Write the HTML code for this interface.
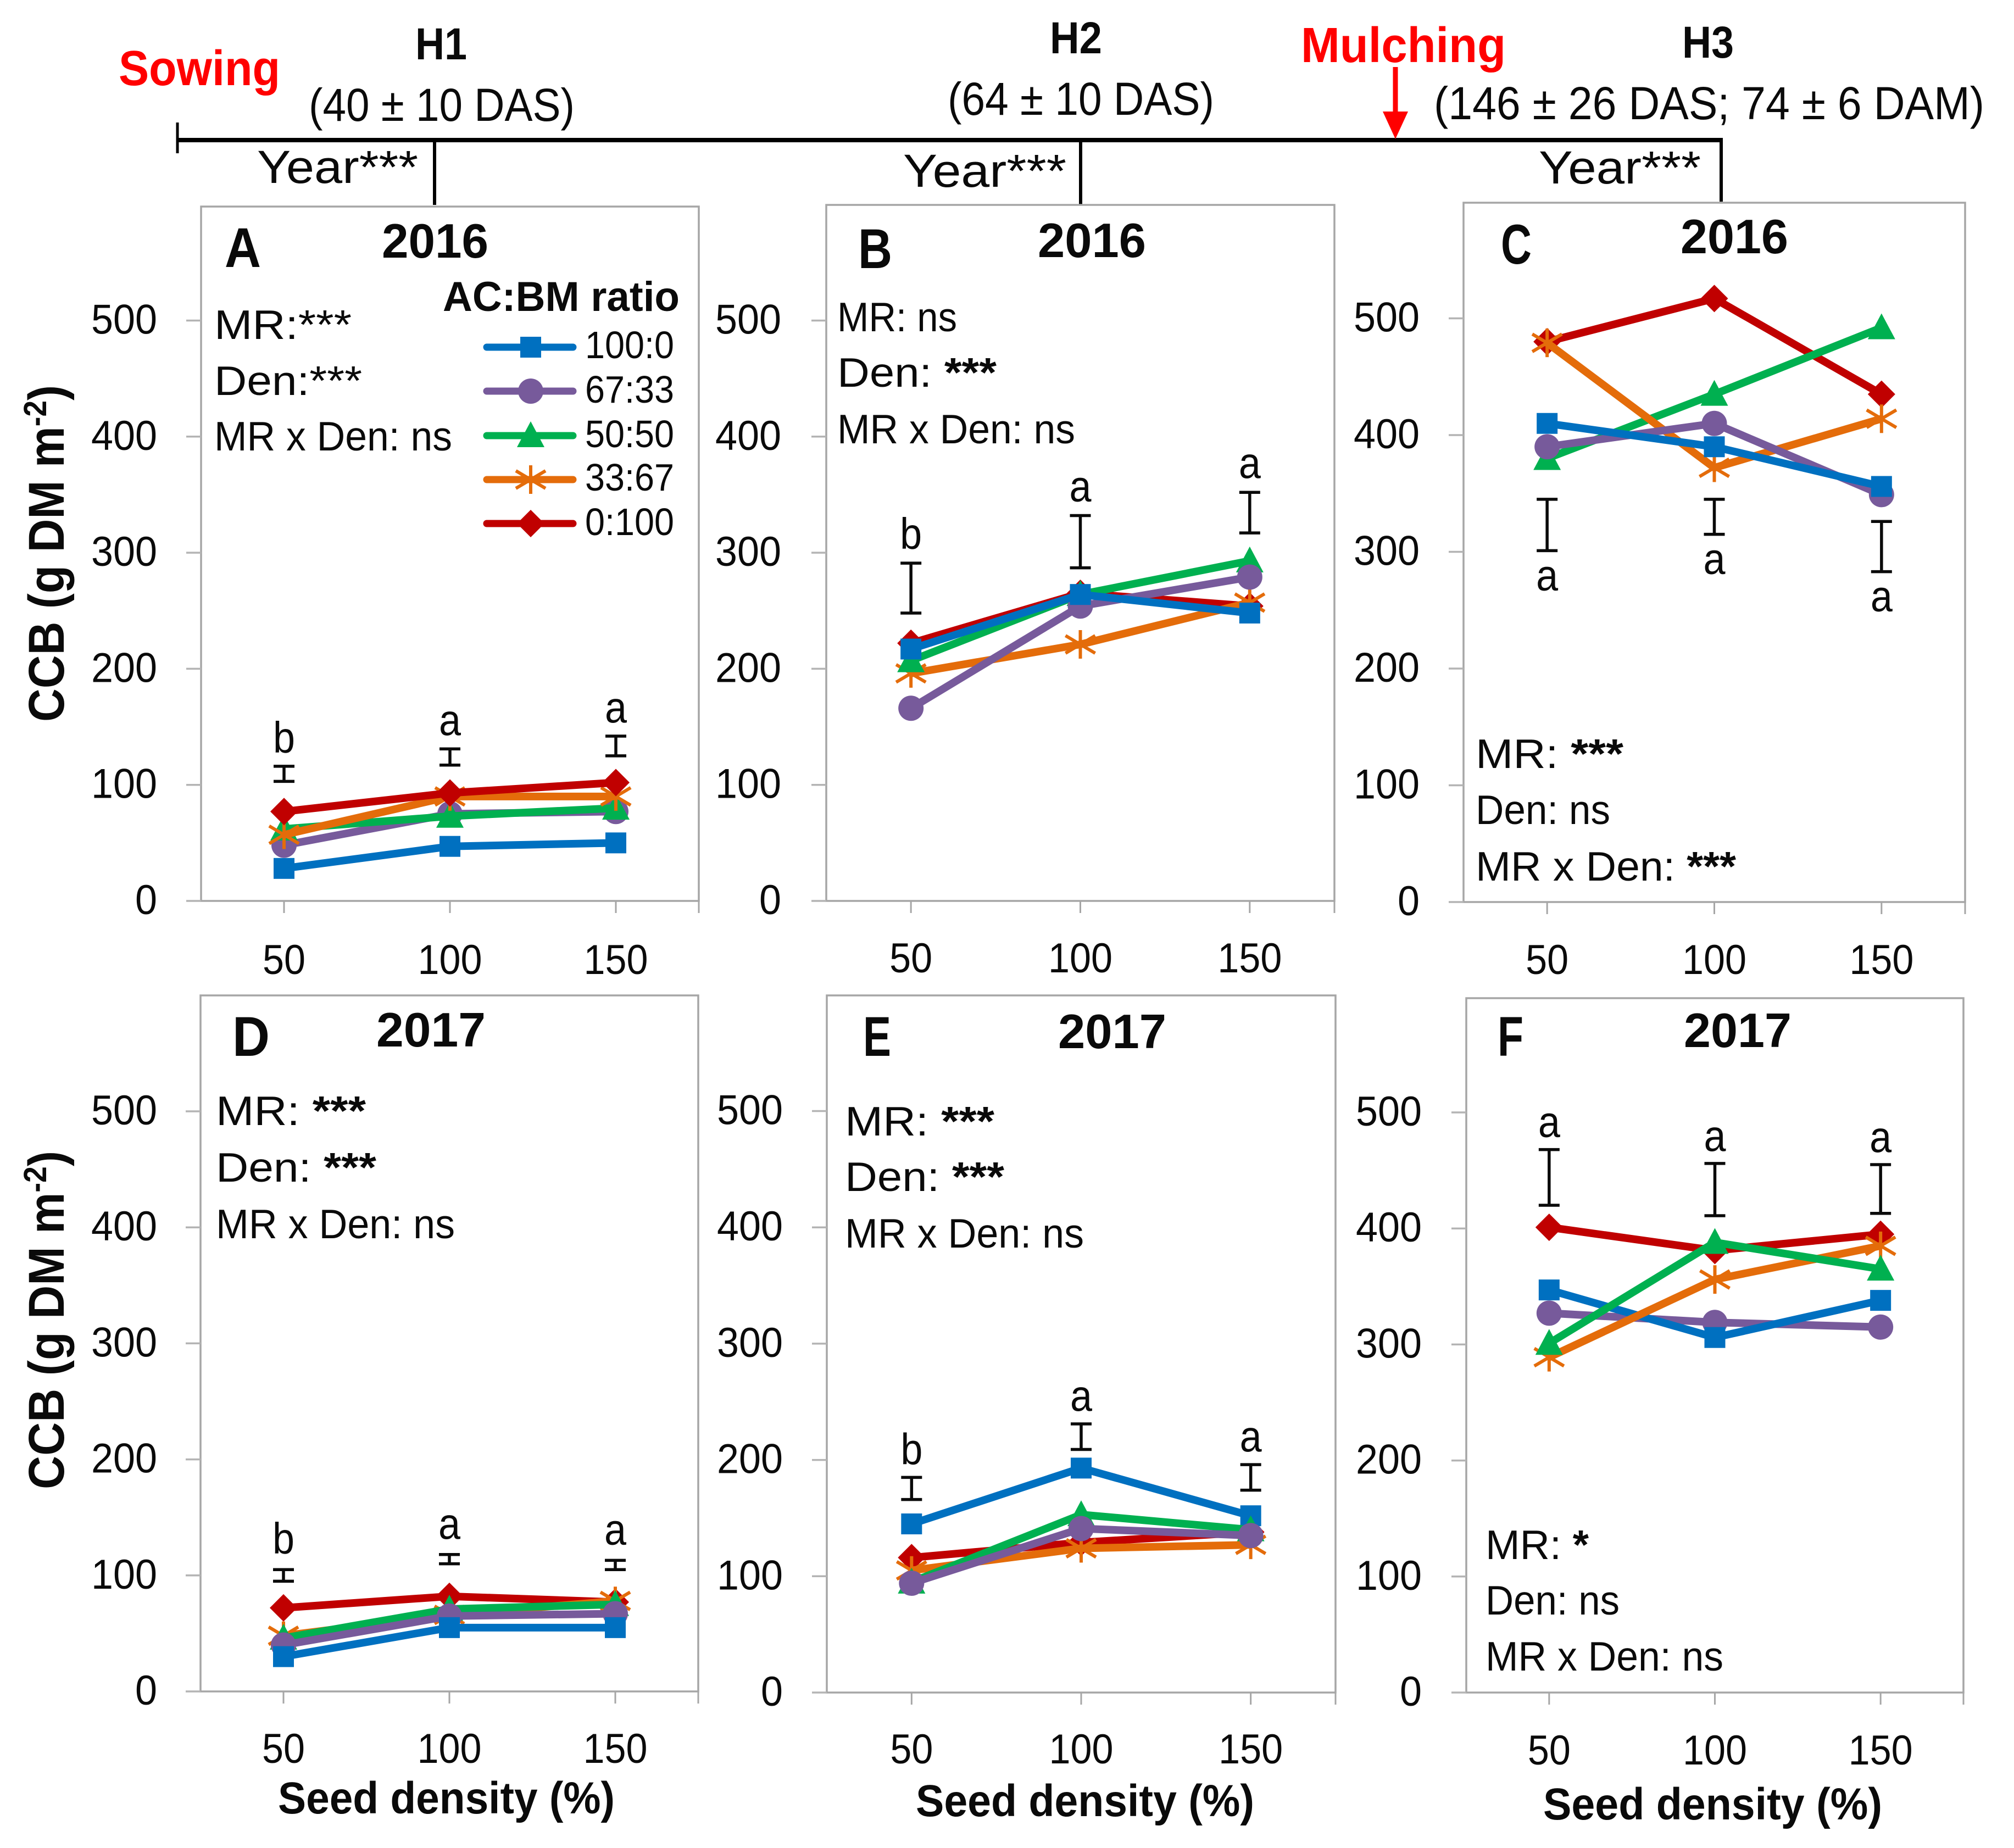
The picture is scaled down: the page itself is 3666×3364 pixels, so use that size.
<!DOCTYPE html>
<html lang="en">
<head>
<meta charset="utf-8">
<title>CCB by seed density and AC:BM ratio</title>
<style>
html,body{margin:0;padding:0;background:#fff}
svg{display:block;font-family:"Liberation Sans",sans-serif}
text{fill:#0a0a0a}
.b{font-weight:bold}
.n{font-size:75px}
.yr{font-size:88px;font-weight:bold}
.pl{font-size:102px;font-weight:bold}
.sd{font-size:82px;font-weight:bold}
.tl{font-size:84px}
.lg{font-size:70px}
.red{fill:#ff0000;font-weight:bold}
.st{font-weight:bold}
</style>
</head>
<body>
<svg id="chart" xmlns="http://www.w3.org/2000/svg" width="3666" height="3364" viewBox="0 0 3666 3364">
<rect x="0" y="0" width="3666" height="3364" fill="#ffffff"/>

<g>
<line x1="323" y1="255" x2="3136" y2="255" stroke="#000" stroke-width="8"/>
<line x1="323" y1="223" x2="323" y2="279" stroke="#000" stroke-width="5"/>
<line x1="791" y1="255" x2="791" y2="373" stroke="#000" stroke-width="6"/>
<line x1="1967" y1="255" x2="1967" y2="372" stroke="#000" stroke-width="6"/>
<line x1="3133" y1="255" x2="3133" y2="367" stroke="#000" stroke-width="6"/>
<line x1="2540" y1="122" x2="2540" y2="210" stroke="#ff0000" stroke-width="9"/>
<polygon points="2517,203 2563,203 2540,253" fill="#ff0000"/>
<text x="216" y="155" font-size="90" class="red" textLength="294" lengthAdjust="spacingAndGlyphs">Sowing</text>
<text x="2368" y="113" font-size="90" class="red" textLength="373" lengthAdjust="spacingAndGlyphs">Mulching</text>
<text x="756" y="108" font-size="82" class="b" textLength="94" lengthAdjust="spacingAndGlyphs">H1</text>
<text x="1911" y="97" font-size="82" class="b" textLength="95" lengthAdjust="spacingAndGlyphs">H2</text>
<text x="3062" y="105" font-size="82" class="b" textLength="94" lengthAdjust="spacingAndGlyphs">H3</text>
<text x="562" y="220" class="tl" textLength="484" lengthAdjust="spacingAndGlyphs">(40 ± 10 DAS)</text>
<text x="1725" y="209" class="tl" textLength="485" lengthAdjust="spacingAndGlyphs">(64 ± 10 DAS)</text>
<text x="2610" y="217" class="tl" textLength="1002" lengthAdjust="spacingAndGlyphs">(146 ± 26 DAS; 74 ± 6 DAM)</text>
<text x="468" y="333" class="tl" textLength="293" lengthAdjust="spacingAndGlyphs">Year***</text>
<text x="1644" y="340" class="tl" textLength="297" lengthAdjust="spacingAndGlyphs">Year***</text>
<text x="2801" y="334" class="tl" textLength="295" lengthAdjust="spacingAndGlyphs">Year***</text>
</g>

<g id="plots"></g>

<g>
<text transform="translate(116,1314) rotate(-90)" font-size="92" class="b" textLength="613" lengthAdjust="spacingAndGlyphs">CCB (g DM m<tspan font-size="58" dy="-32">-2</tspan><tspan dy="32">)</tspan></text>
<text transform="translate(116,2711) rotate(-90)" font-size="92" class="b" textLength="616" lengthAdjust="spacingAndGlyphs">CCB (g DM m<tspan font-size="58" dy="-32">-2</tspan><tspan dy="32">)</tspan></text>
</g>

<g>
<text x="409" y="486" class="pl" textLength="66" lengthAdjust="spacingAndGlyphs">A</text>
<text x="695" y="469" class="yr" textLength="194" lengthAdjust="spacingAndGlyphs">2016</text>
<text x="390" y="617" class="n" textLength="250" lengthAdjust="spacingAndGlyphs">MR:***</text>
<text x="390" y="719" class="n" textLength="269" lengthAdjust="spacingAndGlyphs">Den:***</text>
<text x="390" y="820" class="n" textLength="433" lengthAdjust="spacingAndGlyphs">MR x Den: ns</text>
</g>
<g>
<text x="806" y="566" font-size="76" class="b" textLength="431" lengthAdjust="spacingAndGlyphs">AC:BM ratio</text>
<text x="1065" y="652" class="lg" textLength="162" lengthAdjust="spacingAndGlyphs">100:0</text>
<text x="1065" y="733" class="lg" textLength="162" lengthAdjust="spacingAndGlyphs">67:33</text>
<text x="1065" y="814" class="lg" textLength="162" lengthAdjust="spacingAndGlyphs">50:50</text>
<text x="1065" y="893" class="lg" textLength="162" lengthAdjust="spacingAndGlyphs">33:67</text>
<text x="1065" y="974" class="lg" textLength="162" lengthAdjust="spacingAndGlyphs">0:100</text>
<g id="legend-keys"></g>
</g>

<g>
<text x="1562" y="488" class="pl" textLength="62" lengthAdjust="spacingAndGlyphs">B</text>
<text x="1889" y="468" class="yr" textLength="197" lengthAdjust="spacingAndGlyphs">2016</text>
<text x="1524" y="603" class="n" textLength="218" lengthAdjust="spacingAndGlyphs">MR: ns</text>
<text x="1524" y="704" class="n" textLength="290" lengthAdjust="spacingAndGlyphs">Den: <tspan class="st">***</tspan></text>
<text x="1524" y="807" class="n" textLength="433" lengthAdjust="spacingAndGlyphs">MR x Den: ns</text>
</g>
<g>
<text x="2732" y="480" class="pl" textLength="56" lengthAdjust="spacingAndGlyphs">C</text>
<text x="3059" y="461" class="yr" textLength="196" lengthAdjust="spacingAndGlyphs">2016</text>
<text x="2686" y="1398" class="n" textLength="269" lengthAdjust="spacingAndGlyphs">MR: <tspan class="st">***</tspan></text>
<text x="2686" y="1500" class="n" textLength="245" lengthAdjust="spacingAndGlyphs">Den: ns</text>
<text x="2686" y="1603" class="n" textLength="474" lengthAdjust="spacingAndGlyphs">MR x Den: <tspan class="st">***</tspan></text>
</g>
<g>
<text x="423" y="1922" class="pl" textLength="68" lengthAdjust="spacingAndGlyphs">D</text>
<text x="685" y="1905" class="yr" textLength="199" lengthAdjust="spacingAndGlyphs">2017</text>
<text x="393" y="2048" class="n" textLength="273" lengthAdjust="spacingAndGlyphs">MR: <tspan class="st">***</tspan></text>
<text x="393" y="2151" class="n" textLength="292" lengthAdjust="spacingAndGlyphs">Den: <tspan class="st">***</tspan></text>
<text x="393" y="2254" class="n" textLength="435" lengthAdjust="spacingAndGlyphs">MR x Den: ns</text>
</g>
<g>
<text x="1571" y="1922" class="pl" textLength="51" lengthAdjust="spacingAndGlyphs">E</text>
<text x="1926" y="1908" class="yr" textLength="197" lengthAdjust="spacingAndGlyphs">2017</text>
<text x="1538" y="2067" class="n" textLength="272" lengthAdjust="spacingAndGlyphs">MR: <tspan class="st">***</tspan></text>
<text x="1538" y="2168" class="n" textLength="290" lengthAdjust="spacingAndGlyphs">Den: <tspan class="st">***</tspan></text>
<text x="1538" y="2271" class="n" textLength="435" lengthAdjust="spacingAndGlyphs">MR x Den: ns</text>
</g>
<g>
<text x="2726" y="1922" class="pl" textLength="47" lengthAdjust="spacingAndGlyphs">F</text>
<text x="3065" y="1906" class="yr" textLength="196" lengthAdjust="spacingAndGlyphs">2017</text>
<text x="2704" y="2838" class="n" textLength="188" lengthAdjust="spacingAndGlyphs">MR: <tspan class="st">*</tspan></text>
<text x="2704" y="2939" class="n" textLength="244" lengthAdjust="spacingAndGlyphs">Den: ns</text>
<text x="2704" y="3041" class="n" textLength="433" lengthAdjust="spacingAndGlyphs">MR x Den: ns</text>
</g>
<g>
<text x="506" y="3301" class="sd" textLength="613" lengthAdjust="spacingAndGlyphs">Seed density (%)</text>
<text x="1667" y="3306" class="sd" textLength="616" lengthAdjust="spacingAndGlyphs">Seed density (%)</text>
<text x="2809" y="3312" class="sd" textLength="617" lengthAdjust="spacingAndGlyphs">Seed density (%)</text>
</g>
</svg>
<script>
const categories = [50, 100, 150];
const yTickValues = [0, 100, 200, 300, 400, 500];
const seriesNames = ['100:0', '67:33', '50:50', '33:67', '0:100'];

const a100_0 = [28, 47, 50];
const a67_33 = [48, 75, 77];
const a50_50 = [62, 73, 80];
const a33_67 = [57, 90, 90];
const a0_100 = [77, 93, 102];
const aErrLow = [103, 117, 125];
const aErrHigh = [116, 131, 142];
const aLetters = ['b', 'a', 'a'];

const b100_0 = [217, 264, 248];
const b67_33 = [166, 254, 279];
const b50_50 = [207, 264, 293];
const b33_67 = [196, 221, 257];
const b0_100 = [222, 265, 254];
const bErrLow = [248, 287, 317];
const bErrHigh = [291, 332, 352];
const bLetters = ['b', 'a', 'a'];

const c100_0 = [410, 390, 356];
const c67_33 = [390, 410, 349];
const c50_50 = [380, 435, 492];
const c33_67 = [479, 372, 414];
const c0_100 = [480, 517, 435];
const cErrLow = [301, 315, 283];
const cErrHigh = [345, 345, 326];
const cLetters = ['a', 'a', 'a'];

const d100_0 = [30, 55, 55];
const d67_33 = [40, 65, 67];
const d50_50 = [46, 71, 75];
const d33_67 = [48, 66, 78];
const d0_100 = [72, 82, 77];
const dErrLow = [95, 110, 105];
const dErrHigh = [105, 118, 113];
const dLetters = ['b', 'a', 'a'];

const e100_0 = [145, 193, 152];
const e67_33 = [94, 141, 135];
const e50_50 = [95, 153, 140];
const e33_67 = [105, 124, 127];
const e0_100 = [116, 129, 138];
const eErrLow = [166, 209, 174];
const eErrHigh = [185, 231, 196];
const eLetters = ['b', 'a', 'a'];

const f100_0 = [347, 306, 338];
const f67_33 = [327, 319, 315];
const f50_50 = [301, 388, 365];
const f33_67 = [289, 356, 385];
const f0_100 = [401, 381, 395];
const fErrLow = [420, 411, 413];
const fErrHigh = [468, 456, 455];
const fLetters = ['a', 'a', 'a'];

const seriesColors = ['#0070c0', '#775a9b', '#00b050', '#e46c0a', '#c00000'];
const seriesMarkers = ['square', 'circle', 'triangle', 'star', 'diamond'];
const NS = 'http://www.w3.org/2000/svg';
const plots = document.getElementById('plots');

function make(parent, tag, attrs) {
  const el = document.createElementNS(NS, tag);
  for (const k in attrs) el.setAttribute(k, attrs[k]);
  parent.appendChild(el);
  return el;
}

function drawMarker(parent, kind, color, cx, cy) {
  const g = make(parent, 'g', {transform: 'translate(' + cx + ',' + cy + ')'});
  
  
  if (kind === 'square') make(g, 'rect', {x: -19, y: -19, width: 38, height: 38, fill: color});
  if (kind === 'circle') make(g, 'circle', {cx: 0, cy: 0, r: 23, fill: color});
  if (kind === 'triangle') make(g, 'polygon', {points: '0,-26 25,21 -25,21', fill: color});
  if (kind === 'diamond') make(g, 'polygon', {points: '0,-25 25,0 0,25 -25,0', fill: color});
  if (kind === 'star') {
    make(g, 'path', {d: 'M0,-26V26M-27,-16L27,16M-27,16L27,-16', stroke: color, 'stroke-width': 6, fill: 'none'});
  }
}

function drawPanel(p) {
  const yScale = function (v) { return p.base - v * p.per100 / 100; };
  const xScale = function (i) { return p.left + (i + 0.5) * (p.right - p.left) / categories.length; };
  const g = make(plots, 'g', {});
  
  
  const frame = make(g, 'rect', {x: p.left, y: p.top, width: p.right - p.left, height: p.base - p.top, fill: 'none', stroke: '#a6a6a6', 'stroke-width': 3.5});
  
  
  yTickValues.forEach(function (v) {
    const y = yScale(v);
    const t = make(g, 'line', {x1: p.left - 27, x2: p.left, y1: y, y2: y, stroke: '#b4b4b4', 'stroke-width': 3.5});
    
    
    const s = String(v);
    const l = make(g, 'text', {x: p.labelRight, y: y + 24, 'font-size': 76, 'text-anchor': 'end', textLength: s.length * 40, lengthAdjust: 'spacingAndGlyphs'});
    
    
    l.textContent = s;
  });
  categories.forEach(function (c, i) {
    const x = xScale(i);
    const t = make(g, 'line', {x1: x, x2: x, y1: p.base, y2: p.base + 22, stroke: '#a6a6a6', 'stroke-width': 3});
    
    
    const s = String(c);
    const l = make(g, 'text', {x: x, y: p.xLabelY, 'font-size': 76, 'text-anchor': 'middle', textLength: s.length * 39, lengthAdjust: 'spacingAndGlyphs'});
    
    
    l.textContent = s;
  });
  const edge = make(g, 'line', {x1: p.right, x2: p.right, y1: p.base, y2: p.base + 22, stroke: '#a6a6a6', 'stroke-width': 3});
  
  

  p.errHigh.forEach(function (hi, i) {
    const x = xScale(i);
    const yHi = yScale(hi);
    const yLo = yScale(p.errLow[i]);
    const e = make(g, 'path', {d: 'M' + (x - 19) + ',' + yHi + 'H' + (x + 19) + 'M' + x + ',' + yHi + 'V' + yLo + 'M' + (x - 19) + ',' + yLo + 'H' + (x + 19), stroke: '#0a0a0a', 'stroke-width': 5.5, fill: 'none'});
    
    
    const ly = p.letterBelow ? yLo + p.letterGap : yHi - p.letterGap;
    const l = make(g, 'text', {x: x, y: ly, 'font-size': 80, 'text-anchor': 'middle', textLength: 40, lengthAdjust: 'spacingAndGlyphs'});
    
    
    l.textContent = p.letters[i];
  });

  p.order.forEach(function (s) {
    const values = p.series[s];
    const sg = make(g, 'g', {});
    
    
    const pts = values.map(function (v, i) { return xScale(i) + ',' + yScale(v); }).join(' ');
    const line = make(sg, 'polyline', {points: pts, fill: 'none', stroke: seriesColors[s], 'stroke-width': 14, 'stroke-linejoin': 'round'});
    
    
    values.forEach(function (v, i) {
      drawMarker(sg, seriesMarkers[s], seriesColors[s], xScale(i), yScale(v));
    });
  });
}

const panels = [
  {key: 'a', left: 366, right: 1272, top: 376, base: 1640, per100: 211.3, labelRight: 286, xLabelY: 1773, letterGap: 25, letterBelow: false,
   series: [a100_0, a67_33, a50_50, a33_67, a0_100], errLow: aErrLow, errHigh: aErrHigh, letters: aLetters, order: [0, 1, 2, 3, 4]},
  {key: 'b', left: 1504, right: 2429, top: 373, base: 1640, per100: 211.3, labelRight: 1422, xLabelY: 1770, letterGap: 26, letterBelow: false,
   series: [b100_0, b67_33, b50_50, b33_67, b0_100], errLow: bErrLow, errHigh: bErrHigh, letters: bLetters, order: [4, 3, 2, 1, 0]},
  {key: 'c', left: 2664, right: 3577, top: 369, base: 1642, per100: 212.5, labelRight: 2584, xLabelY: 1773, letterGap: 72, letterBelow: true,
   series: [c100_0, c67_33, c50_50, c33_67, c0_100], errLow: cErrLow, errHigh: cErrHigh, letters: cLetters, order: [4, 2, 3, 1, 0]},
  {key: 'd', left: 365, right: 1271, top: 1812, base: 3079, per100: 211.2, labelRight: 286, xLabelY: 3209, letterGap: 29, letterBelow: false,
   series: [d100_0, d67_33, d50_50, d33_67, d0_100], errLow: dErrLow, errHigh: dErrHigh, letters: dLetters, order: [4, 3, 2, 1, 0]},
  {key: 'e', left: 1505, right: 2431, top: 1812, base: 3081, per100: 211.7, labelRight: 1425, xLabelY: 3210, letterGap: 24, letterBelow: false,
   series: [e100_0, e67_33, e50_50, e33_67, e0_100], errLow: eErrLow, errHigh: eErrHigh, letters: eLetters, order: [4, 3, 0, 2, 1]},
  {key: 'f', left: 2669, right: 3574, top: 1817, base: 3081, per100: 211.2, labelRight: 2588, xLabelY: 3212, letterGap: 23, letterBelow: false,
   series: [f100_0, f67_33, f50_50, f33_67, f0_100], errLow: fErrLow, errHigh: fErrHigh, letters: fLetters, order: [1, 0, 4, 3, 2]}
];
panels.forEach(drawPanel);

const legendKeys = document.getElementById('legend-keys');
seriesNames.forEach(function (name, s) {
  const y = [632, 712, 793, 873, 953][s];
  const ln = make(legendKeys, 'line', {x1: 886, x2: 1043, y1: y, y2: y, stroke: seriesColors[s], 'stroke-width': 13, 'stroke-linecap': 'round'});
  
  
  drawMarker(legendKeys, seriesMarkers[s], seriesColors[s], 966, y);
});
</script>
</body>
</html>
